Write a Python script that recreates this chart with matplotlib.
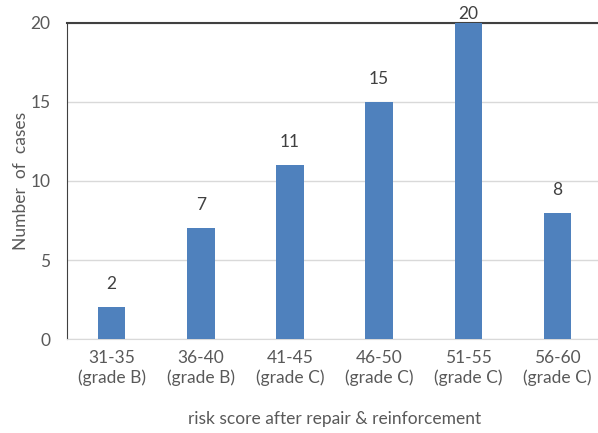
import matplotlib.pyplot as plt

# score bands and case counts
bands = ["31-35\n(grade B)", "36-40\n(grade B)", "41-45\n(grade C)",
         "46-50\n(grade C)", "51-55\n(grade C)", "56-60\n(grade C)"]
cases = [2, 7, 11, 15, 20, 8]
yticks = [0, 5, 10, 15, 20]

plt.rcParams['font.family'] = ['Lato', 'DejaVu Sans']
txt = '#595959'
fs = 12.5

fig = plt.figure(figsize=(5.98, 4.33), dpi=100)
ax = fig.add_axes([0.112, 0.217, 0.895, 0.730])

x = list(range(len(bands)))
ax.bar(x, cases, width=0.31, color='#4f81bd', zorder=3)

# value labels above the bars, kept inside the plot area at the top
for xi, v in zip(x, cases):
    ax.text(xi, min(v + 0.95, 20.05), str(v), ha='center', va='bottom',
            fontsize=fs, color='#404040')

ax.set_xlim(-0.5, 5.5)
ax.set_ylim(0, 20)
ax.set_yticks(yticks)
ax.set_xticks(x)
ax.set_xticklabels(bands, linespacing=1.25)
ax.tick_params(axis='both', length=0, labelsize=fs, colors=txt)
ax.tick_params(axis='y', pad=12)
ax.tick_params(axis='x', pad=8)

ax.grid(axis='y', color='#d9d9d9', linewidth=1, zorder=0)
ax.spines['right'].set_visible(False)
ax.spines['left'].set_color('#404040')
ax.spines['top'].set_color('#404040')
ax.spines['top'].set_linewidth(1.5)
ax.spines['bottom'].set_color('#d9d9d9')

ax.set_ylabel('Number  of  cases', fontsize=fs, color=txt, labelpad=1)
ax.set_xlabel('risk score after repair & reinforcement', fontsize=fs, color=txt, labelpad=18)

fig.savefig('out.png', dpi=100)
